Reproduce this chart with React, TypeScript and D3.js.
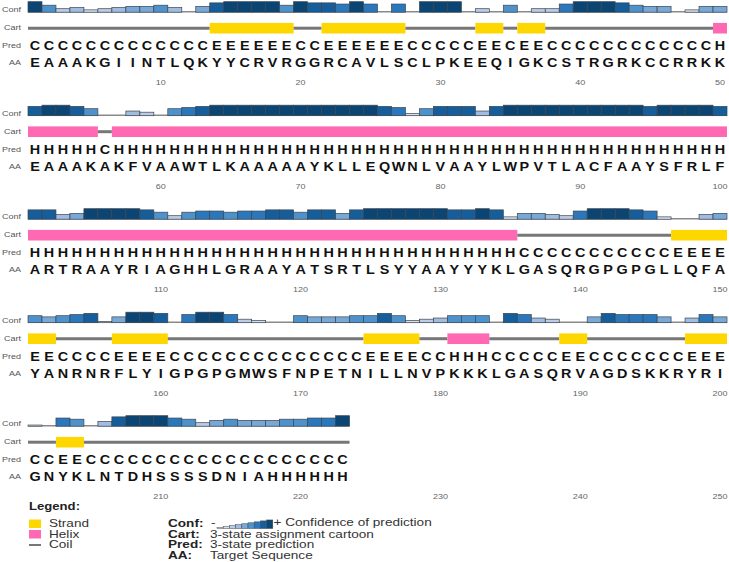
import React from 'react';
import * as d3 from 'd3';

// target sequence, 3-state prediction and confidence (0-9), residue by residue
const aa = 'EAAAKGIINTLQKYYCRVRGGRCAVLSCLPKEEQIGKCSTRGRKCCRRKK' +
  'EAAAKAKFVAAWTLKAAAAAYKLLEQWNLVAAYLWPVTLACFAAYSFRLF' +
  'ARTRAAYRIAGHHLGRAAYATSRTLSYYAAYYYKLGASQRGPGPGLLQFA' +
  'YANRNRFLYIGPGPGMWSFNPETNILLNVPKKKLGASQRVAGDSKKRYRI' +
  'GNYKLNTDHSSSSDNIAHHHHHH';

const pred = 'CCCCCCCCCCCCCEEEEEECCEEEEEECCCCCEECEECCCCCCCCCCCCH' +
  'HHHHHCHHHHHHHHHHHHHHHHHHHHHHHHHHHHHHHHHHHHHHHHHHHH' +
  'HHHHHHHHHHHHHHHHHHHHHHHHHHHHHHHHHHHCCCCCCCCCCCEEEE' +
  'EECCCCEEEECCCCCCCCCCCCCCEEEECCHHHCCCCCEECCCCCCCEEE' +
  'CCEECCCCCCCCCCCCCCCCCCC';

const conf = [
  9, 6, 3, 4, 2, 3, 4, 5, 5, 6, 4, 0, 5, 8, 9, 9, 9, 9, 6, 9, 8, 8, 7, 9, 7,
  0, 7, 0, 9, 9, 9, 0, 3, 0, 6, 0, 3, 3, 7, 9, 9, 9, 8, 6, 5, 5, 0, 2, 5, 5,
  8, 9, 9, 8, 6, 0, 0, 4, 3, 0, 6, 7, 8, 9, 9, 9, 9, 9, 9, 9, 9, 9, 9, 9, 9,
  8, 7, 2, 6, 8, 8, 8, 4, 8, 9, 9, 9, 9, 9, 9, 9, 9, 9, 9, 8, 9, 9, 9, 9, 8,
  8, 8, 4, 5, 9, 9, 9, 9, 8, 6, 3, 6, 7, 7, 6, 7, 7, 8, 8, 6, 8, 8, 5, 8, 9,
  9, 9, 9, 9, 9, 8, 8, 9, 8, 2, 5, 5, 4, 3, 7, 9, 9, 9, 8, 7, 2, 0, 0, 4, 5,
  6, 5, 6, 7, 8, 1, 5, 9, 9, 8, 0, 7, 9, 9, 7, 3, 2, 0, 0, 6, 5, 5, 5, 6, 6,
  8, 6, 2, 3, 4, 6, 6, 6, 0, 8, 7, 4, 3, 0, 0, 5, 8, 7, 7, 7, 5, 0, 4, 7, 5,
  1, 0, 7, 6, 0, 4, 8, 9, 9, 9, 7, 6, 3, 5, 6, 5, 5, 5, 6, 6, 7, 7, 9,
];

const rowLabels = ['Conf', 'Cart', 'Pred', 'AA'];
const legendItems = ['Strand', 'Helix', 'Coil'];
const keyLabels = ['Conf:', 'Cart:', 'Pred:', 'AA:'];
const keyTexts = ['', '3-state assignment cartoon', '3-state prediction', 'Target Sequence'];

const perRow = 50;
const confColors = ['#ffffff', '#eef0f7', '#d7deee', '#bccbe6', '#a0bce0', '#78a8d6', '#4e92cc', '#2a78bb', '#155d9b', '#0b4574'];
const ssColor: Record<string, string> = { E: '#ffd700', H: '#ff69b4' };

const x = d3.scaleLinear().domain([0, perRow]).range([28, 727]);
const h = d3.scaleLinear().domain([0, 9]).range([0, 10.5]);

const rows = d3.range(Math.ceil(aa.length / perRow)).map(r => d3.range(r * perRow, Math.min(aa.length, (r + 1) * perRow)));

// consecutive runs of the same state inside one row
const segments = (idx: number[]) => {
  const out: { s: string; a: number; b: number }[] = [];
  idx.forEach((g, k) => {
    const last = out[out.length - 1];
    if (last && last.s === pred[g]) last.b = k + 1;
    else out.push({ s: pred[g], a: k, b: k + 1 });
  });
  return out;
};

const font = 'Liberation Sans, Arial, sans-serif';

// the original picture is a bit stretched sideways, so text is widened too
const T = ({ x, y, sx = 1.25, children, ...rest }: any) => (
  <text transform={`translate(${x},${y}) scale(${sx},1)`} dominantBaseline="central" {...rest}>{children}</text>
);

const App = () => (
  <svg width={729} height={562} style={{ position: 'absolute', left: 0, top: 0, background: '#fff', fontFamily: font }}>
    {rows.map((idx, r) => {
      const base = 12.2 + r * 103.5;
      return (
        <g key={r}>
          {rowLabels.map((l, i) => (
            <T key={l} x={21} y={base + [-2, 16, 34, 51][i]} sx={1.2} textAnchor="end" fontSize={7.5} fill="#555">{l}</T>
          ))}
          <line x1={x(0)} x2={x(idx.length)} y1={base - 0.5} y2={base - 0.5} stroke="#8a8a8a" strokeWidth={1.6} />
          {idx.map((g, k) => conf[g] > 0 && (
            <rect key={g} x={x(k)} width={x(k + 1) - x(k)} y={base - h(conf[g])} height={h(conf[g])}
              fill={confColors[conf[g]]} stroke="#3c4650" strokeWidth={0.7} />
          ))}
          {segments(idx).map((s, i) => s.s === 'C'
            ? <line key={i} x1={x(s.a)} x2={x(s.b)} y1={base + 16} y2={base + 16} stroke="#777" strokeWidth={3} />
            : <rect key={i} x={x(s.a)} width={x(s.b) - x(s.a)} y={base + 10.7} height={10.6} fill={ssColor[s.s]} />)}
          {idx.map((g, k) => (
            <g key={g} fontWeight="bold" fontSize={12} fill="#111" textAnchor="middle">
              <T x={(x(k) + x(k + 1)) / 2} y={base + 34} sx={1.2}>{pred[g]}</T>
              <T x={(x(k) + x(k + 1)) / 2} y={base + 51} sx={1.2}>{aa[g]}</T>
            </g>
          ))}
          {d3.range(10, perRow + 1, 10).map(t => (
            <T key={t} x={(x(t - 1) + x(t)) / 2} y={base + 71} sx={1.2} textAnchor="middle" fontSize={7.5} fill="#666">{r * perRow + t}</T>
          ))}
        </g>
      );
    })}

    <T x={29} y={506} fontSize={10.5} fontWeight="bold" fill="#222">Legend:</T>
    {legendItems.map((l, i) => (
      <g key={l}>
        {i < 2
          ? <rect x={29} y={519.5 + i * 10.5} width={12} height={8.5} fill={ssColor[i === 0 ? 'E' : 'H']} />
          : <line x1={29} x2={41} y1={545} y2={545} stroke="#777" strokeWidth={2} />}
        <T x={49} y={524 + i * 10.5} sx={1.36} fontSize={10} fill="#333">{l}</T>
      </g>
    ))}
    {keyLabels.map((l, i) => (
      <g key={l}>
        <T x={168} y={524 + i * 10.5} sx={1.36} fontSize={10} fontWeight="bold" fill="#222">{l}</T>
        {keyTexts[i] && <T x={210} y={524 + i * 10.5} sx={1.36} fontSize={10} fill="#333">{keyTexts[i]}</T>}
      </g>
    ))}
    <T x={211} y={523} sx={1.36} fontSize={10} fill="#333">-</T>
    {d3.range(1, 10).map(c => (
      <rect key={c} x={217 + (c - 1) * 6.2} width={6.2} y={528.5 - c * 0.95} height={c * 0.95}
        fill={confColors[c]} stroke="#3c4650" strokeWidth={0.5} />
    ))}
    <T x={273.5} y={523} sx={1.36} fontSize={10} fill="#333">+ Confidence of prediction</T>
  </svg>
);

export default App;
